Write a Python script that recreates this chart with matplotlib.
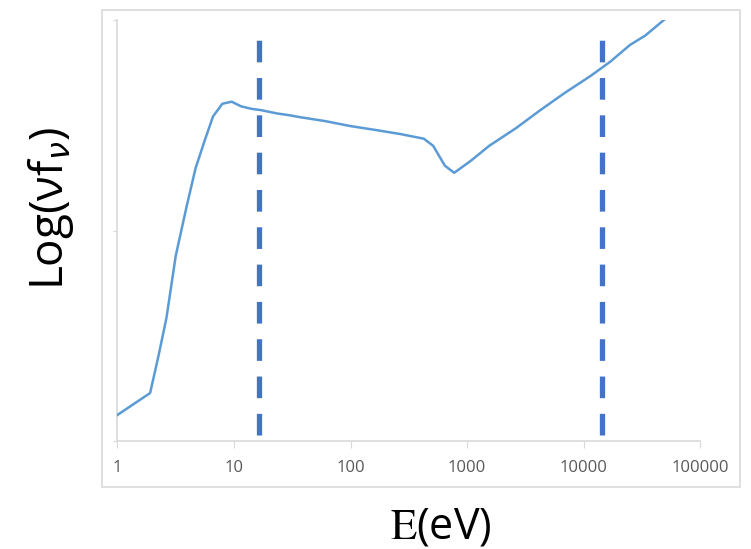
import matplotlib
matplotlib.use("Agg")
import matplotlib.pyplot as plt
from matplotlib.patches import Rectangle
import numpy as np

# log10 of photon energy (eV) and relative log(nu f_nu)
log_e = [0.0, 0.28, 0.35, 0.42, 0.50, 0.59, 0.67, 0.75, 0.82, 0.90, 0.98,
         1.06, 1.15, 1.23, 1.37, 1.47, 1.57, 1.78, 2.00, 2.21, 2.43, 2.63,
         2.71, 2.81, 2.89, 3.03, 3.19, 3.42, 3.63, 3.84, 4.06, 4.23, 4.40,
         4.53, 4.69]
flux = [0.062, 0.114, 0.200, 0.292, 0.440, 0.553, 0.648, 0.715, 0.771, 0.801, 0.806,
        0.795, 0.789, 0.786, 0.778, 0.774, 0.769, 0.760, 0.748, 0.739, 0.729, 0.718,
        0.701, 0.654, 0.637, 0.665, 0.701, 0.743, 0.786, 0.827, 0.867, 0.901, 0.941,
        0.963, 1.0]
energy = [10 ** v for v in log_e]

# band edges marked with dashed lines (eV)
edges = [16.5, 14500]

x_ticks = [1, 10, 100, 1000, 10000, 100000]
x_labels = ["1", "10", "100", "1000", "10000", "100000"]

fig = plt.figure(figsize=(7.51, 5.49), dpi=100)

# light frame around the whole chart
fig.patches.append(Rectangle((102 / 751, 1 - 487 / 549), 638 / 751, 477 / 549,
                             transform=fig.transFigure, fill=False,
                             edgecolor="#D9D9D9", linewidth=1.2))

ax = fig.add_axes([117.5 / 751, 1 - 441 / 549, 582.5 / 751, 421 / 549])
ax.set_xscale("log")
ax.set_xlim(1, 100000)
ax.set_ylim(0, 1)

ax.plot(energy, flux, color="#5B9BD5", linewidth=1.8, zorder=3)
for e in edges:
    ax.plot([e, e], [0.014, 0.952], color="#4472C4", linewidth=3.8,
            dashes=(4.1, 2.97), solid_capstyle="butt", zorder=2)

for side in ["top", "right"]:
    ax.spines[side].set_visible(False)
ax.spines["bottom"].set_color("#D9D9D9")
ax.spines["left"].set_color("#D9D9D9")
ax.spines["bottom"].set_linewidth(1.2)
ax.spines["left"].set_linewidth(1.2)

ax.set_xticks(x_ticks)
ax.set_xticklabels(x_labels)
ax.xaxis.set_minor_locator(matplotlib.ticker.NullLocator())
ax.tick_params(axis="x", direction="out", length=5, color="#D9D9D9",
               labelsize=12, labelcolor="#595959", pad=9)
for lab in ax.get_xticklabels():
    lab.set_fontfamily("Open Sans")

ax.set_yticks([0, 0.5, 1])
ax.set_yticklabels([])
ax.tick_params(axis="y", direction="out", length=3, color="#D9D9D9")

fig.text(50 / 751, 1 - 208 / 549, r"Log(νf$_{\nu}$)", rotation=90,
         ha="center", va="center", fontsize=33, family="Open Sans",
         math_fontfamily="dejavusans")
fig.text(441 / 751, 1 - 527 / 549, r"$\mathrm{E}$(eV)", ha="center", va="center",
         fontsize=31, family="Open Sans", math_fontfamily="stix")

fig.savefig("out.png", dpi=100)
